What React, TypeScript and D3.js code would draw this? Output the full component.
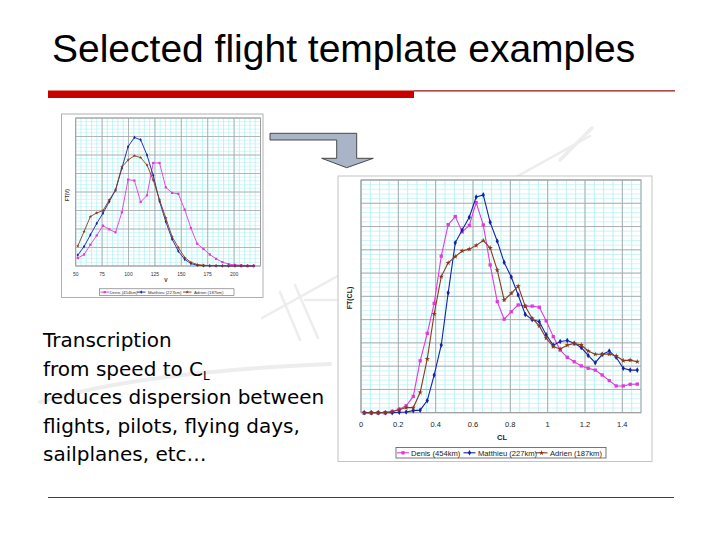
import React from 'react';
import * as d3 from 'd3';

// ---------- DATA ----------
const TITLE = 'Selected flight template examples';
const BODY_LINES = ['Transcription', 'from speed to C', 'reduces dispersion between', 'flights, pilots, flying days,', 'sailplanes, etc…'];
const SERIES_NAMES = ['Denis (454km)', 'Matthieu (227km)', 'Adrien (187km)'];
const SERIES_COLORS = ['#e23ad8', '#1522a8', '#8a3a1c'];

// Large chart: FT(CL) vs CL
const CL_X = [0.017, 0.055, 0.092, 0.130, 0.167, 0.205, 0.242, 0.280, 0.317, 0.355, 0.392, 0.430, 0.467, 0.505, 0.542, 0.580, 0.617, 0.655, 0.692, 0.730, 0.767, 0.805, 0.842, 0.880, 0.917, 0.955, 0.992, 1.030, 1.067, 1.105, 1.142, 1.180, 1.217, 1.255, 1.292, 1.330, 1.367, 1.405, 1.442, 1.480];
const DENIS_CL = [0, 0, 0, 0, 0.06, 0.15, 0.3, 0.7, 2.23, 3.41, 4.7, 6.73, 8.08, 8.43, 7.77, 8.05, 9.03, 8.07, 6.35, 4.77, 4.02, 4.34, 4.63, 4.58, 4.58, 4.53, 3.95, 3.27, 2.69, 2.38, 2.19, 2.01, 1.91, 1.83, 1.62, 1.38, 1.15, 1.15, 1.22, 1.23];
const MATTHIEU_CL = [0, 0, 0, 0, 0, 0.02, 0.03, 0.09, 0.11, 0.52, 1.62, 2.91, 5.15, 7.3, 7.85, 8.4, 9.27, 9.36, 8.18, 7.37, 6.46, 5.83, 5.06, 4.22, 4.0, 3.91, 3.35, 2.9, 3.06, 3.1, 2.98, 2.8, 2.46, 2.15, 2.5, 2.65, 2.38, 1.91, 1.83, 1.83];
const ADRIEN_CL = [0, 0, 0, 0.01, 0.04, 0.13, 0.22, 0.22, 0.87, 2.31, 4.25, 5.85, 6.44, 6.71, 6.95, 7.03, 7.19, 7.4, 7.08, 6.13, 4.84, 5.13, 5.44, 4.57, 4.05, 3.73, 3.2, 2.84, 2.74, 2.9, 2.98, 2.91, 2.65, 2.51, 2.51, 2.52, 2.44, 2.24, 2.26, 2.19];
const CL_TICKS = [0, 0.2, 0.4, 0.6, 0.8, 1, 1.2, 1.4];
const CL_TICK_LABELS = ['0', '0.2', '0.4', '0.6', '0.8', '1', '1.2', '1.4'];

// Small chart: FT(V) vs V
const V_X = [52.0, 57.9, 63.9, 69.9, 75.8, 81.8, 87.7, 93.7, 99.6, 105.6, 111.5, 117.5, 123.4, 129.4, 135.3, 141.3, 147.2, 153.2, 159.1, 165.1, 171.0, 177.0, 182.9, 188.9, 194.8, 200.8, 206.7, 212.7, 218.6];
const DENIS_V = [0.43, 0.62, 1.15, 1.65, 2.18, 1.98, 1.82, 2.9, 4.67, 4.62, 3.46, 3.82, 5.57, 5.57, 4.25, 3.95, 3.9, 3.05, 2.05, 1.2, 0.92, 0.62, 0.39, 0.21, 0.1, 0.06, 0.04, 0.02, 0.02];
const MATTHIEU_V = [0.59, 1.05, 1.68, 2.3, 2.85, 3.48, 4.1, 5.28, 6.45, 6.95, 6.82, 6.0, 4.9, 3.5, 2.4, 1.45, 0.8, 0.36, 0.13, 0.04, 0.02, 0.01, 0.01, 0.01, 0, 0, 0, 0, 0];
const ADRIEN_V = [1.08, 1.86, 2.67, 2.87, 2.99, 3.57, 4.1, 5.35, 5.73, 5.96, 5.86, 5.46, 4.65, 3.58, 2.6, 1.58, 1.0, 0.46, 0.2, 0.08, 0.04, 0.02, 0.02, 0.01, 0.01, 0.01, 0, 0, 0];
const V_TICKS = [50, 75, 100, 125, 150, 175, 200];

const SYMBOLS = [d3.symbolSquare, d3.symbolDiamond, d3.symbolStar];

type Pt = [number, number];

function Markers({ pts, sym, color, size }: { pts: Pt[]; sym: d3.SymbolType; color: string; size: number }) {
  const p = d3.symbol().type(sym).size(size)() as string;
  return (
    <g>
      {pts.map((q, i) => (
        <path key={i} d={p} transform={`translate(${q[0]},${q[1]})`} fill={color} stroke="none" />
      ))}
    </g>
  );
}

function BigChart() {
  const x = d3.scaleLinear().domain([0, 1.5]).range([361, 641]);
  const y = d3.scaleLinear().domain([0, 10]).range([412.7, 180]);
  const series = [DENIS_CL, MATTHIEU_CL, ADRIEN_CL];
  const line = d3.line<Pt>().x((d) => d[0]).y((d) => d[1]);
  const minorX = d3.range(0, 1.5001, 0.05);
  const minorY = d3.range(0, 10.001, 0.2);
  const majorX = d3.range(0, 1.5001, 0.2);
  const majorY = d3.range(0, 10.001, 1);
  const sizes = [11, 9, 9];
  const legendItems = [
    { x0: 397, tx: 411 },
    { x0: 463.5, tx: 478 },
    { x0: 535.5, tx: 550 },
  ];
  return (
    <g>
      <rect x={338} y={176} width={314} height={285.5} fill="#fff" stroke="#c4c4c4" strokeWidth={1} />
      <rect x={x(0)} y={y(10)} width={x(1.5) - x(0)} height={y(0) - y(10)} fill="#fff" />
      {minorX.map((v, i) => (
        <line key={'mx' + i} x1={x(v)} x2={x(v)} y1={y(0)} y2={y(10)} stroke="#a8eef2" strokeWidth={0.8} />
      ))}
      {minorY.map((v, i) => (
        <line key={'my' + i} x1={x(0)} x2={x(1.5)} y1={y(v)} y2={y(v)} stroke="#b6f2f4" strokeWidth={0.7} />
      ))}
      {majorX.map((v, i) => (
        <line key={'Mx' + i} x1={x(v)} x2={x(v)} y1={y(0)} y2={y(10)} stroke="#a6a6a6" strokeWidth={0.9} />
      ))}
      {majorY.map((v, i) => (
        <line key={'My' + i} x1={x(0)} x2={x(1.5)} y1={y(v)} y2={y(v)} stroke="#a6a6a6" strokeWidth={0.9} />
      ))}
      <rect x={x(0)} y={y(10)} width={x(1.5) - x(0)} height={y(0) - y(10)} fill="none" stroke="#9a9a9a" strokeWidth={0.9} />
      {series.map((s, k) => {
        const pts: Pt[] = CL_X.map((cx, i) => [x(cx), y(s[i])]);
        return (
          <g key={k}>
            <path d={line(pts) as string} fill="none" stroke={SERIES_COLORS[k]} strokeWidth={1.1} />
            <Markers pts={pts} sym={SYMBOLS[k]} color={SERIES_COLORS[k]} size={sizes[k]} />
          </g>
        );
      })}
      {CL_TICKS.map((t, i) => (
        <text key={'t' + i} x={x(t)} y={427} textAnchor="middle" fontFamily="Liberation Sans, Arial, sans-serif" fontSize={7.5} fill="#222">
          {CL_TICK_LABELS[i]}
        </text>
      ))}
      <text x={502} y={440} textAnchor="middle" fontFamily="Liberation Sans, Arial, sans-serif" fontSize={7.5} fontWeight="bold" fill="#222">CL</text>
      <text transform="translate(352,298) rotate(-90)" textAnchor="middle" fontFamily="Liberation Sans, Arial, sans-serif" fontSize={7} fontWeight="bold" fill="#222">FT(CL)</text>
      <rect x={396} y={447.5} width={210} height={10.5} fill="#fff" stroke="#555" strokeWidth={0.8} />
      {legendItems.map((it, k) => (
        <g key={'l' + k}>
          <line x1={it.x0} x2={it.x0 + 12} y1={452.8} y2={452.8} stroke={SERIES_COLORS[k]} strokeWidth={1.1} />
          <Markers pts={[[it.x0 + 6, 452.8]]} sym={SYMBOLS[k]} color={SERIES_COLORS[k]} size={sizes[k]} />
          <text x={it.tx} y={455.6} fontFamily="Liberation Sans, Arial, sans-serif" fontSize={7.6} fill="#222">{SERIES_NAMES[k]}</text>
        </g>
      ))}
    </g>
  );
}

function SmallChart() {
  const x = d3.scaleLinear().domain([50, 225]).range([75.7, 260.5]);
  const y = d3.scaleLinear().domain([0, 8]).range([266, 118]);
  const series = [DENIS_V, MATTHIEU_V, ADRIEN_V];
  const line = d3.line<Pt>().x((d) => d[0]).y((d) => d[1]);
  const minorX = d3.range(50, 225.01, 5);
  const minorY = d3.range(0, 8.001, 0.2);
  const majorX = d3.range(50, 225.01, 25);
  const majorY = d3.range(0, 8.001, 1);
  const sizes = [5, 4, 4];
  const legendItems = [
    { x0: 100.5, tx: 109.5 },
    { x0: 137, tx: 148 },
    { x0: 183, tx: 194 },
  ];
  return (
    <g>
      <rect x={61.5} y={114} width={201.5} height={183.5} fill="#fff" stroke="#b0b0b0" strokeWidth={1} />
      {minorX.map((v, i) => (
        <line key={'mx' + i} x1={x(v)} x2={x(v)} y1={y(0)} y2={y(8)} stroke="#a8eef2" strokeWidth={0.7} />
      ))}
      {minorY.map((v, i) => (
        <line key={'my' + i} x1={x(50)} x2={x(225)} y1={y(v)} y2={y(v)} stroke="#b6f2f4" strokeWidth={0.6} />
      ))}
      {majorX.map((v, i) => (
        <line key={'Mx' + i} x1={x(v)} x2={x(v)} y1={y(0)} y2={y(8)} stroke="#a6a6a6" strokeWidth={0.8} />
      ))}
      {majorY.map((v, i) => (
        <line key={'My' + i} x1={x(50)} x2={x(225)} y1={y(v)} y2={y(v)} stroke="#a6a6a6" strokeWidth={0.8} />
      ))}
      <rect x={x(50)} y={y(8)} width={x(225) - x(50)} height={y(0) - y(8)} fill="none" stroke="#9a9a9a" strokeWidth={0.8} />
      {series.map((s, k) => {
        const pts: Pt[] = V_X.map((vx, i) => [x(vx), y(s[i])]);
        return (
          <g key={k}>
            <path d={line(pts) as string} fill="none" stroke={SERIES_COLORS[k]} strokeWidth={0.9} />
            <Markers pts={pts} sym={SYMBOLS[k]} color={SERIES_COLORS[k]} size={sizes[k]} />
          </g>
        );
      })}
      {V_TICKS.map((t, i) => (
        <text key={'t' + i} x={x(t)} y={275.5} textAnchor="middle" fontFamily="Liberation Sans, Arial, sans-serif" fontSize={5} fill="#333">{t}</text>
      ))}
      <text x={166} y={282} textAnchor="middle" fontFamily="Liberation Sans, Arial, sans-serif" fontSize={5} fontWeight="bold" fill="#333">V</text>
      <text transform="translate(69,195) rotate(-90)" textAnchor="middle" fontFamily="Liberation Sans, Arial, sans-serif" fontSize={4.6} fontWeight="bold" fill="#333">FT(V)</text>
      <rect x={99.3} y={288.8} width={134.7} height={6.6} fill="#fff" stroke="#666" strokeWidth={0.6} />
      {legendItems.map((it, k) => (
        <g key={'l' + k}>
          <line x1={it.x0} x2={it.x0 + 8.5} y1={292.1} y2={292.1} stroke={SERIES_COLORS[k]} strokeWidth={0.9} />
          <Markers pts={[[it.x0 + 4.2, 292.1]]} sym={SYMBOLS[k]} color={SERIES_COLORS[k]} size={sizes[k]} />
          <text x={it.tx} y={293.8} fontFamily="Liberation Sans, Arial, sans-serif" fontSize={4.3} fill="#333">{SERIES_NAMES[k]}</text>
        </g>
      ))}
    </g>
  );
}

export default function App() {
  const bodyX = 43;
  const baselines = [347, 375.5, 404, 432.5, 461];
  return (
    <svg width={720} height={540} viewBox="0 0 720 540" style={{ position: 'absolute', left: 0, top: 0, background: '#fff' }}>
      <rect x={0} y={0} width={720} height={540} fill="#fff" />
      {/* faint background glider watermark */}
      <g stroke="#ededed" fill="none" strokeLinecap="round">
        <path d="M40,402 Q140,372 330,364" strokeWidth={4} />
        <path d="M262,318 L590,136" strokeWidth={2.5} />
        <path d="M280,292 L300,340 M295,285 L318,338 M305,300 L345,300" strokeWidth={2.5} />
        <path d="M560,160 L592,128" strokeWidth={3.5} />
      </g>
      <text x={52} y={62} fontFamily="Liberation Sans, Arial, sans-serif" fontSize={39} fill="#000">{TITLE}</text>
      <rect x={48} y={90.5} width={366} height={7.5} fill="#c80000" />
      <line x1={414} x2={675} y1={90.8} y2={90.8} stroke="#9a1010" strokeWidth={1.3} />
      <line x1={48} x2={674} y1={497.5} y2={497.5} stroke="#a01414" strokeWidth={1} />
      <SmallChart />
      <path d="M270,133.3 L356.7,133.3 L356.7,158.3 L373.3,158.3 L346.7,167.7 L321.7,158.3 L336.7,158.3 L336.7,140 L270,140 Z" fill="#a9b5c7" stroke="#3a3a3a" strokeWidth={0.9} />
      <BigChart />
      <g fontFamily="DejaVu Sans, Verdana, sans-serif" fontSize={20} fill="#000">
        {BODY_LINES.map((t, i) => (
          <text key={i} x={bodyX} y={baselines[i]}>
            {t}
            {i === 1 ? <tspan dy={4} fontSize={12}>L</tspan> : null}
          </text>
        ))}
      </g>
    </svg>
  );
}
